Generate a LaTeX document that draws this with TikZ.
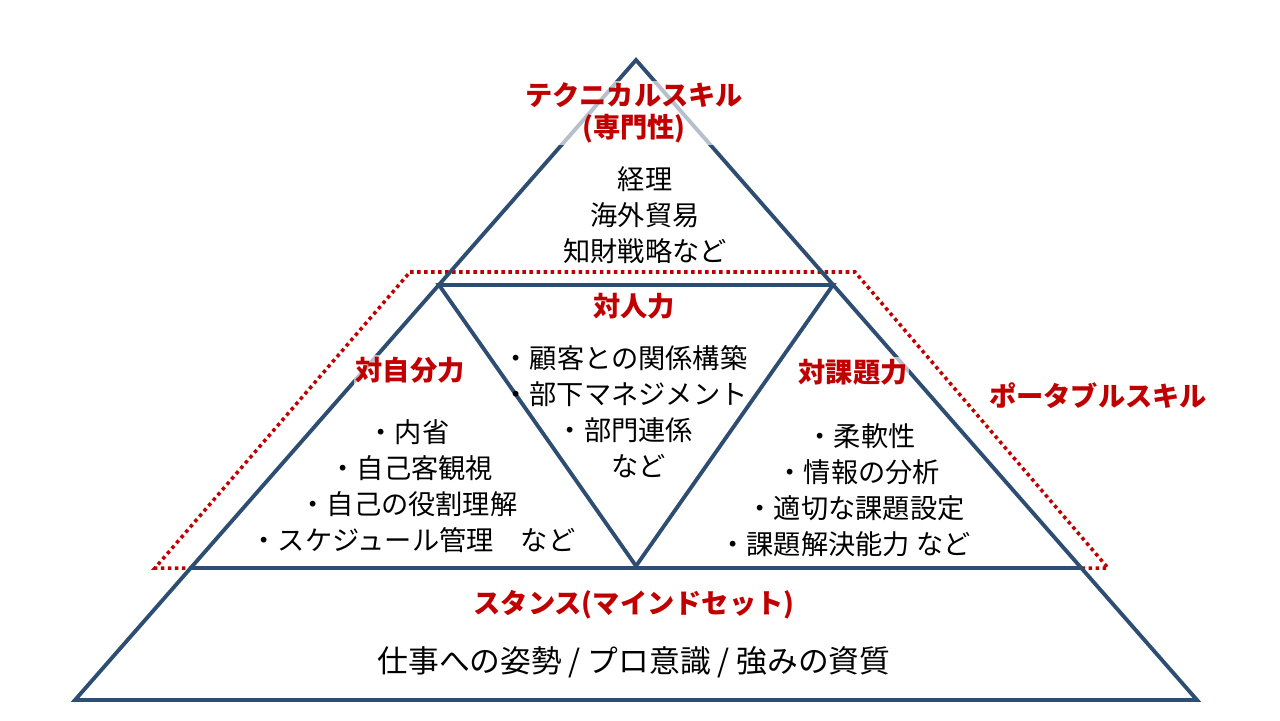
\documentclass[tikz,border=0pt]{standalone}
\usepackage{fontspec}
\setmainfont{Noto Sans CJK JP}
\usetikzlibrary{positioning}
\definecolor{edgeblue}{HTML}{2E4D72}
\definecolor{skillred}{HTML}{C00000}
\tikzset{
  edge/.style={draw=edgeblue, line width=2.2pt},
  title/.style={text=skillred, font=\fontsize{15.5}{18}\selectfont\bfseries, align=center,
    fill=white, fill opacity=.65, text opacity=1, inner sep=1pt},
  body/.style={font=\fontsize{15.5}{20.5}\selectfont, align=center, inner sep=1pt},
  portable/.style={draw=skillred, line width=2pt, dotted}
}
\begin{document}
\begin{tikzpicture}[x=0.02cm, y=-0.02cm]
  \useasboundingbox (0,0) rectangle (1280,720);
  % outline of the pyramid
  \coordinate (apex) at (636,60);
  \coordinate (bl) at (75,700);
  \coordinate (br) at (1197,700);
  \coordinate (ml) at (439,285);
  \coordinate (mr) at (833,285);
  \coordinate (ll) at (191,568);
  \coordinate (lr) at (1081,568);
  \coordinate (tip) at (636,566);
  % portable skill area
  \coordinate (p1) at (410,272);
  \coordinate (p2) at (855,272);
  \coordinate (p3) at (1108,568);
  \coordinate (p4) at (155,568);
  \draw[portable] (p1) -- (p2) -- (p3) -- (p4) -- cycle;
  \draw[edge] (apex) -- (bl) -- (br) -- cycle;
  \draw[edge] (ml) -- (mr) -- (tip) -- cycle;
  \draw[edge] (ll) -- (lr);
  % texts
  \node[title] (tech) at (634,113) {テクニカルスキル\\(専門性)};
  \node[body] (techbody) at (645,215) {経理\\海外貿易\\知財戦略など};
  \node[title] (inter) at (634,306) {対人力};
  \node[body] (interbody) at (625,412) {・顧客との関係構築\\・部下マネジメント\\・部門連係\\　など};
  \node[title] (self) at (410,370) {対自分力};
  \node[body, align=left] (selfbody) at (413,486) {\hspace{4.3em}・内省\\\hspace{2.9em}・自己客観視\\\hspace{1.8em}・自己の役割理解\\・スケジュール管理　など};
  \node[title] (task) at (853,372) {対課題力};
  \node[body, align=left] (taskbody) at (845,490) {\hspace{3.2em}・柔軟性\\\hspace{2.1em}・情報の分析\\\hspace{1em}・適切な課題設定\\・課題解決能力 など};
  \node[title, fill=none] (port) at (1098,396) {ポータブルスキル};
  \node[title] (stance) at (634,605) {スタンス(マインドセット)};
  \node[body, font=\fontsize{17.5}{20}\selectfont] (stancebody) at (634,662) {仕事への姿勢 / プロ意識 / 強みの資質};
\end{tikzpicture}
\end{document}
